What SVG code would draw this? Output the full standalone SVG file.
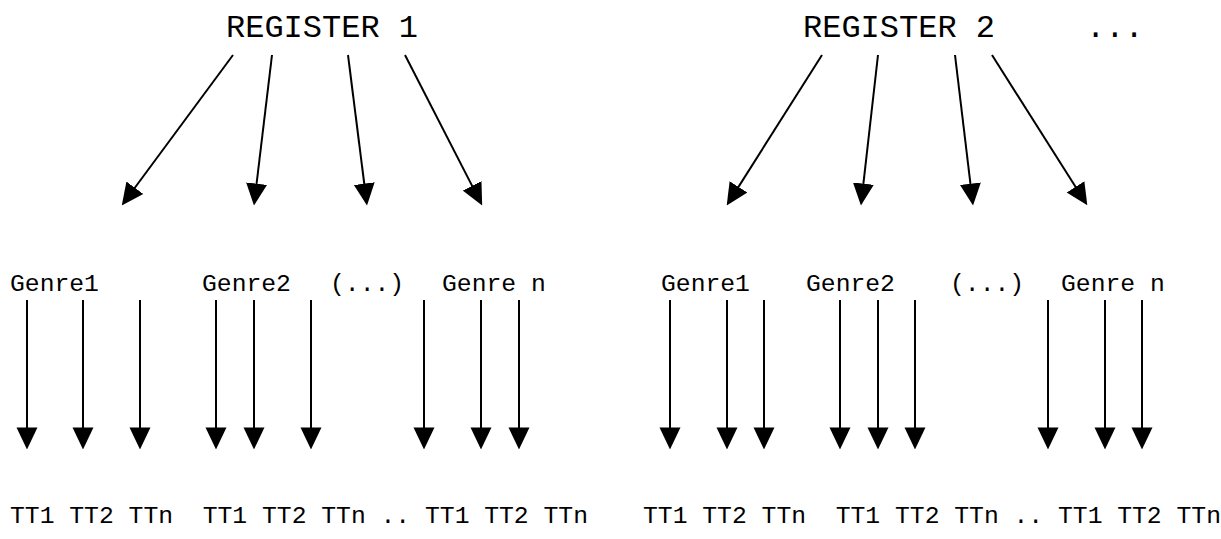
<svg xmlns="http://www.w3.org/2000/svg" width="1221" height="539" viewBox="0 0 1221 539">
<defs>
<style>
.t{font-family:"Liberation Mono","Courier New",monospace;fill:#000}
.reg{font-size:32px}
.lab{font-size:24.7px}
.c line{stroke:#000;stroke-width:2;fill:none;marker-end:url(#ah)}
</style>
<marker id="ah" markerUnits="userSpaceOnUse" markerWidth="22" markerHeight="22" viewBox="0 0 21 20" refX="11" refY="10" orient="auto">
<path d="M0,0 L21,10 L0,20 z" fill="#000"/>
</marker>
</defs>
<rect width="1221" height="539" fill="#fff"/>
<g id="register1"><text class="t reg" x="226" y="37">REGISTER 1</text></g>
<g id="register2"><text class="t reg" x="803" y="37">REGISTER 2</text></g>
<g id="more"><text class="t reg" x="1086" y="37">...</text></g>

<g id="r1-genre1"><text class="t lab" x="10" y="291">Genre1</text></g>
<g id="r1-genre2"><text class="t lab" x="202" y="291">Genre2</text></g>
<g id="r1-etc"><text class="t lab" x="330" y="291">(...)</text></g>
<g id="r1-genren"><text class="t lab" x="442" y="291">Genre n</text></g>

<g id="r2-genre1"><text class="t lab" x="661" y="291">Genre1</text></g>
<g id="r2-genre2"><text class="t lab" x="806" y="291">Genre2</text></g>
<g id="r2-etc"><text class="t lab" x="950" y="291">(...)</text></g>
<g id="r2-genren"><text class="t lab" x="1061" y="291">Genre n</text></g>

<g id="r1-tt">
<text class="t lab" x="10" y="523">TT1</text>
<text class="t lab" x="69.3" y="523">TT2</text>
<text class="t lab" x="128.6" y="523">TTn</text>
<text class="t lab" x="202.7" y="523">TT1</text>
<text class="t lab" x="262" y="523">TT2</text>
<text class="t lab" x="321.3" y="523">TTn</text>
<text class="t lab" x="380.5" y="523">..</text>
<text class="t lab" x="425" y="523">TT1</text>
<text class="t lab" x="484.2" y="523">TT2</text>
<text class="t lab" x="543.5" y="523">TTn</text>
</g>
<g id="r2-tt">
<text class="t lab" x="643" y="523">TT1</text>
<text class="t lab" x="702.3" y="523">TT2</text>
<text class="t lab" x="761.6" y="523">TTn</text>
<text class="t lab" x="835.7" y="523">TT1</text>
<text class="t lab" x="895" y="523">TT2</text>
<text class="t lab" x="954.3" y="523">TTn</text>
<text class="t lab" x="1013.5" y="523">..</text>
<text class="t lab" x="1058" y="523">TT1</text>
<text class="t lab" x="1117.2" y="523">TT2</text>
<text class="t lab" x="1176.5" y="523">TTn</text>
</g>

<g id="connectors" class="c">
<line x1="233" y1="55" x2="128" y2="197"/>
<line x1="272" y1="55" x2="255.2" y2="195.1"/>
<line x1="348" y1="55" x2="365.7" y2="195.1"/>
<line x1="405" y1="55" x2="477.4" y2="196.1"/>
<line x1="822" y1="55" x2="732.3" y2="196.6"/>
<line x1="878" y1="55" x2="862.1" y2="195.1"/>
<line x1="955" y1="55" x2="971.8" y2="195.1"/>
<line x1="992" y1="55" x2="1081.7" y2="196.5"/>

<line x1="27" y1="300" x2="27" y2="439"/>
<line x1="83" y1="300" x2="83" y2="439"/>
<line x1="140" y1="300" x2="140" y2="439"/>
<line x1="216" y1="300" x2="216" y2="439"/>
<line x1="254" y1="300" x2="254" y2="439"/>
<line x1="311" y1="300" x2="311" y2="439"/>
<line x1="424" y1="300" x2="424" y2="439"/>
<line x1="481" y1="300" x2="481" y2="439"/>
<line x1="519" y1="300" x2="519" y2="439"/>

<line x1="670" y1="300" x2="670" y2="439"/>
<line x1="727" y1="300" x2="727" y2="439"/>
<line x1="764" y1="300" x2="764" y2="439"/>
<line x1="840" y1="300" x2="840" y2="439"/>
<line x1="878" y1="300" x2="878" y2="439"/>
<line x1="915" y1="300" x2="915" y2="439"/>
<line x1="1048" y1="300" x2="1048" y2="439"/>
<line x1="1105" y1="300" x2="1105" y2="439"/>
<line x1="1142" y1="300" x2="1142" y2="439"/>
</g>
</svg>
